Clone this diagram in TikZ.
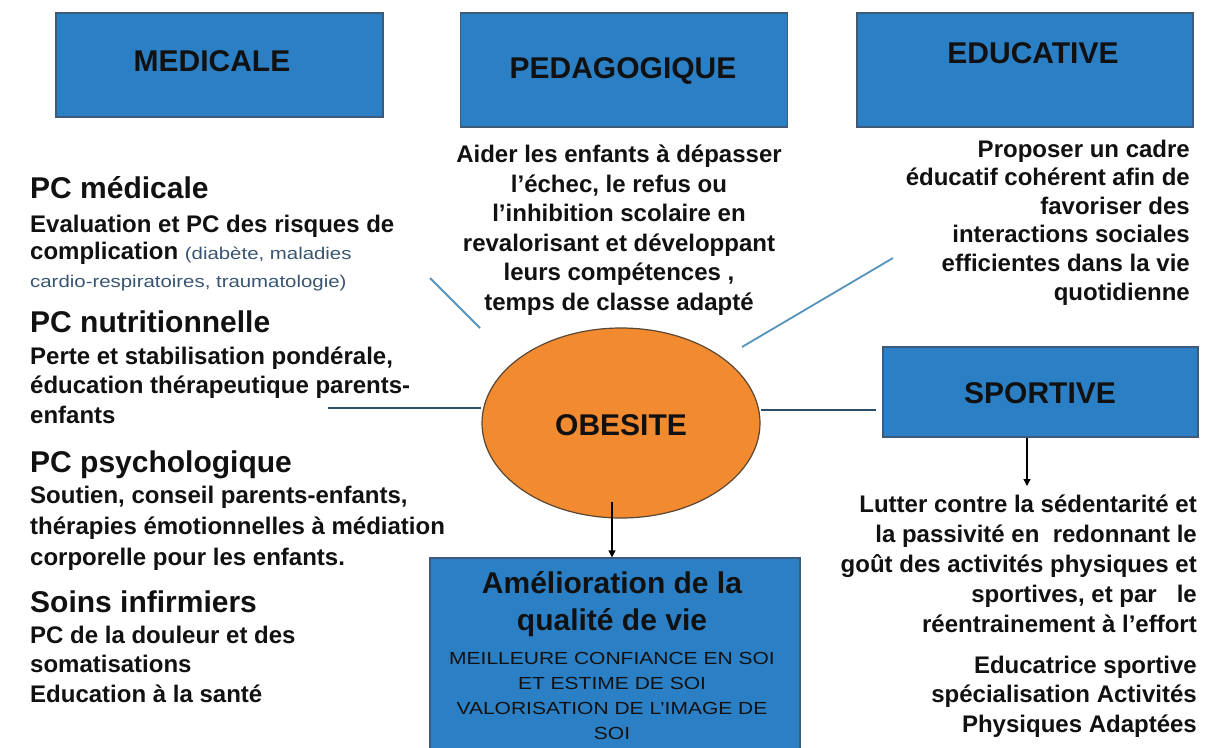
\documentclass[tikz,border=0pt]{standalone}
\usepackage{fontspec}
\setmainfont{Liberation Sans}
\newfontfamily\widefont{Liberation Sans}[FakeStretch=1.2]
\usetikzlibrary{arrows.meta,shapes.geometric}
\definecolor{boxblue}{HTML}{2B80C5}
\definecolor{boxedge}{HTML}{3F5A78}
\definecolor{obor}{HTML}{F28A30}
\definecolor{obedge}{HTML}{5A4634}
\definecolor{diagc}{HTML}{5592BC}
\definecolor{horc}{HTML}{2D4E66}
\definecolor{paren}{HTML}{3A5572}
\definecolor{ink}{HTML}{111111}
\tikzset{
  bluebox/.style={draw=boxedge,line width=1.2pt,fill=boxblue,rectangle,inner sep=0pt},
  boxtitle/.style={font=\bfseries\fontsize{30}{36}\selectfont,text=ink,inner sep=0pt},
  head/.style={font=\bfseries\fontsize{30}{36}\selectfont,text=ink,anchor=base west,inner sep=0pt},
  body/.style={font=\bfseries\fontsize{24}{29.5}\selectfont,text=ink,inner sep=0pt},
  smalltxt/.style={font=\widefont\mdseries\fontsize{17.5}{25}\selectfont,text=ink,inner sep=0pt},
  diagline/.style={draw=diagc,line width=1.8pt},
  horline/.style={draw=horc,line width=1.8pt},
  arr/.style={draw=black,line width=1.3pt,-{Triangle[width=7pt,length=7pt]}}
}
\newcommand{\paren}[1]{{\widefont\mdseries\fontsize{17}{27.5}\selectfont\color{paren}#1}}
\begin{document}
\begin{tikzpicture}[x=1pt,y=-1pt]
\useasboundingbox (0,0) rectangle (1215,747);
\fill[white] (0,0) rectangle (1215,747);

% top boxes
\node[bluebox,minimum width=327pt,minimum height=104pt] (med) at (219.5,65) {};
\node[boxtitle] (medt) at (212,61) {MEDICALE};
\node[bluebox,minimum width=327pt,minimum height=114pt] (ped) at (624,70) {};
\node[boxtitle] (pedt) at (623,71) {PEDAGOGIQUE};
\node[bluebox,minimum width=336pt,minimum height=114pt] (edu) at (1025,70) {};
\node[boxtitle] (edut) at (1033,53) {EDUCATIVE};

% sportive box
\node[bluebox,minimum width=315pt,minimum height=90pt] (spo) at (1040.5,392) {};
\node[boxtitle] (spot) at (1040,393) {SPORTIVE};

% ellipse
\node[ellipse,draw=obedge,line width=1.2pt,fill=obor,minimum width=278pt,minimum height=190pt,inner sep=0pt] (ob) at (621,423) {};
\node[boxtitle] (obt) at (621,425) {OBESITE};

% bottom box
\node[bluebox,minimum width=370pt,minimum height=210pt] (amel) at (615,663) {};
\node[font=\bfseries\fontsize{30}{37}\selectfont,text=ink,inner sep=0pt,align=center,anchor=base] (amelt) at (612,630) {Amélioration de la\\qualité de vie};
\node[smalltxt,align=center,anchor=base] (amels) at (612,739) {MEILLEURE CONFIANCE EN SOI\\ET ESTIME DE SOI\\VALORISATION DE L’IMAGE DE\\SOI};

% left column
\node[head] (h1) at (30,198) {PC médicale};
\node[body,font=\bfseries\fontsize{24}{27.5}\selectfont,align=left,anchor=base west] (b1) at (30,287)
  {Evaluation et PC des risques de\\complication \paren{(diabète, maladies}\\\paren{cardio-respiratoires, traumatologie)}};
\node[head] (h2) at (30,332) {PC nutritionnelle};
\node[body,align=left,anchor=base west] (b2) at (30,423)
  {Perte et stabilisation pondérale,\\éducation thérapeutique parents-\\enfants};
\node[head] (h3) at (30,472) {PC psychologique};
\node[body,font=\bfseries\fontsize{24}{31}\selectfont,align=left,anchor=base west] (b3) at (30,565)
  {Soutien, conseil parents-enfants,\\thérapies émotionnelles à médiation\\corporelle pour les enfants.};
\node[head] (h4) at (30,612) {Soins infirmiers};
\node[body,align=left,anchor=base west] (b4) at (30,702)
  {PC de la douleur et des\\somatisations\\Education à la santé};

% pedagogique text
\node[body,align=center,anchor=base] (pedx) at (619,310)
  {Aider les enfants à dépasser\\l’échec, le refus ou\\l’inhibition scolaire en\\revalorisant et développant\\leurs compétences ,\\temps de classe adapté};

% educative text
\node[body,font=\bfseries\fontsize{24}{28.6}\selectfont,align=right,anchor=base east] (edux) at (1190,300)
  {Proposer un cadre\\éducatif cohérent afin de\\favoriser des\\interactions sociales\\efficientes dans la vie\\quotidienne};

% sportive text
\node[body,font=\bfseries\fontsize{24}{30}\selectfont,align=right,anchor=base east] (spox) at (1197,632)
  {Lutter contre la sédentarité et\\la passivité en\ \ redonnant le\\goût des activités physiques et\\sportives, et par\ \ \ le\\réentrainement à l’effort};
\node[body,align=right,anchor=base east] (spoy) at (1197,732)
  {Educatrice sportive\\spécialisation Activités\\Physiques Adaptées};

% connectors
\coordinate (d1a) at (430,278);
\coordinate (d1b) at (480,328);
\draw[diagline] (d1b) -- (d1a);
\coordinate (d2a) at (742,347);
\coordinate (d2b) at (893,258);
\draw[diagline] (d2a) -- (d2b);
\coordinate (hl) at (328,408);
\draw[horline] (hl -| ob.west) -- (hl);
\coordinate (hr) at (876,410);
\draw[horline] (hr -| ob.east) -- (hr);
\coordinate (a1) at (612,502);
\draw[arr] (a1) -- (a1 |- amel.north);
\coordinate (a2) at (1027,486);
\draw[arr] (a2 |- spo.south) -- (a2);
\end{tikzpicture}
\end{document}
